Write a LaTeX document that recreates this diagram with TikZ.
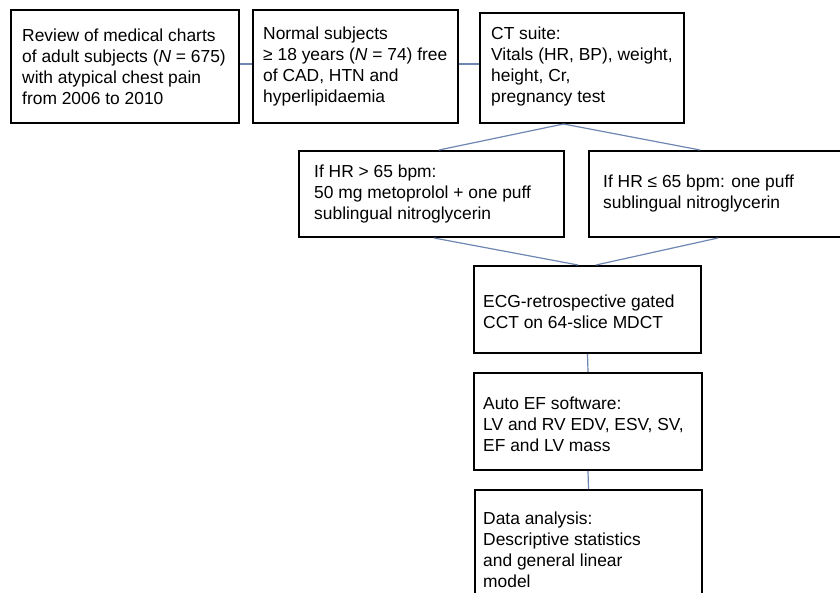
\documentclass[tikz,border=0pt]{standalone}
\usepackage{fontspec}
\setmainfont{Liberation Sans}
\definecolor{connc}{RGB}{110,135,178}
\begin{document}
\begin{tikzpicture}[x=1pt,y=-1pt,
  box/.style={draw=black,line width=2pt,rectangle,inner sep=0pt,anchor=north west},
  txt/.style={inner sep=0pt,align=left,anchor=west,font=\fontsize{17.4}{21}\selectfont},
  conn/.style={draw=connc,line width=1.2pt}]
\useasboundingbox (0,0) rectangle (840,593);
\clip (0,0) rectangle (840,593);
% boxes
\node[box,minimum width=228pt,minimum height=113pt] (b1) at (10,9) {};
\node[box,minimum width=205pt,minimum height=113pt] (b2) at (252,9) {};
\node[box,minimum width=204pt,minimum height=110pt] (b3) at (479,12) {};
\node[box,minimum width=265pt,minimum height=86pt] (b4) at (298,150) {};
\node[box,minimum width=272pt,minimum height=86pt] (b5) at (588,150) {};
\node[box,minimum width=227pt,minimum height=87pt] (b6) at (473,265) {};
\node[box,minimum width=228pt,minimum height=97pt] (b7) at (473,372) {};
\node[box,minimum width=227pt,minimum height=126pt] (b8) at (474,489) {};
% texts
\node[txt] (t1) at ([xshift=12pt]b1.west) {Review of medical charts\\of adult subjects (\textit{N} = 675)\\with atypical chest pain\\from 2006 to 2010};
\node[txt] (t2) at ([xshift=11pt]b2.west) {Normal subjects\\≥ 18 years (\textit{N} = 74) free\\of CAD, HTN and\\hyperlipidaemia};
\node[txt] (t3) at ([xshift=12pt,yshift=1pt]b3.west) {CT suite:\\Vitals (HR, BP), weight,\\height, Cr,\\pregnancy test};
\node[txt] (t4) at ([xshift=16pt]b4.west) {If HR > 65 bpm:\\50 mg metoprolol + one puff\\sublingual nitroglycerin};
\node[txt] (t5) at ([xshift=15pt]b5.west) {If HR ≤ 65 bpm: one puff\\sublingual nitroglycerin};
\node[txt] (t6) at ([xshift=10pt,yshift=-2pt]b6.west) {ECG-retrospective gated\\CCT on 64-slice MDCT};
\node[txt] (t7) at ([xshift=10pt,yshift=-3pt]b7.west) {Auto EF software:\\LV and RV EDV, ESV, SV,\\EF and LV mass};
\node[txt,anchor=north west] (t8) at ([xshift=9pt,yshift=-23pt]b8.north west) {Data analysis:\\Descriptive statistics\\and general linear\\model};
% connectors
\draw[conn] ([yshift=2.5pt]b1.east) -- ([yshift=2.5pt]b2.west);
\draw[conn] ([yshift=2.5pt]b2.east) -- ([yshift=4pt]b3.west);
\draw[conn] ([xshift=-18.5pt]b3.south) -- ([xshift=7.5pt]b4.north);
\draw[conn] ([xshift=-18.5pt]b3.south) -- ([xshift=112pt]b5.north west);
\draw[conn] ([xshift=2.5pt]b4.south) -- ([xshift=-9.5pt]b6.north);
\draw[conn] ([xshift=130pt]b5.south west) -- ([xshift=8.5pt]b6.north);
\draw[conn] (b6.south) -- (b7.north);
\draw[conn] (b7.south) -- (b8.north);
\end{tikzpicture}
\end{document}
